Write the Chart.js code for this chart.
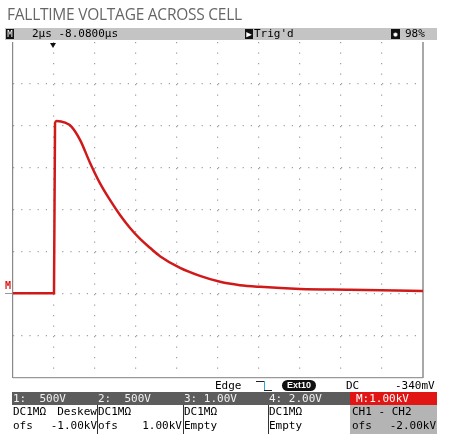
<!DOCTYPE html>
<html>
<head>
<meta charset="utf-8">
<script src="https://cdn.jsdelivr.net/npm/chart.js@4.4.0/dist/chart.umd.min.js"></script>
<style>
body { margin: 0; width: 450px; height: 446px; background: #fff; position: relative; overflow: hidden; font-family: "DejaVu Sans Mono", monospace; }
#grafico { position: absolute; left: 0; top: 0; }
.txt { position: absolute; white-space: pre; font-size: 11px; line-height: 12px; color: #000; }
#titulo { position: absolute; left: 7px; top: 3px; font-family: "Open Sans", sans-serif; font-size: 15.5px; color: #666; letter-spacing: -0.25px; white-space: pre; }
#barraTopo { position: absolute; left: 5px; top: 28px; width: 432px; height: 12px; background: #c4c4c4; }
.icone { position: absolute; background: #111; color: #fff; font-size: 9px; line-height: 10px; text-align: center; }
#barraEscura { position: absolute; left: 12px; top: 392px; width: 338px; height: 13px; background: #5c5c5c; }
#caixaMath { position: absolute; left: 350px; top: 392px; width: 87px; height: 13px; background: #e21515; }
#caixaCinza { position: absolute; left: 350px; top: 405px; width: 87px; height: 29px; background: #b4b4b4; }
.sep { position: absolute; top: 405px; width: 1px; height: 29px; background: #333; }
.col { position: absolute; width: 84px; display: flex; justify-content: space-between; white-space: pre; font-size: 11px; line-height: 12px; color: #000; }
.claro { color: #f2f2f2; }
#ext { position: absolute; left: 282px; top: 380px; width: 34px; height: 11px; background: #111; color: #fff; border-radius: 6px; font-family: "Liberation Sans", sans-serif; font-size: 9px; font-weight: bold; line-height: 11px; text-align: center; }
#gatilho { position: absolute; left: 50px; top: 43px; width: 0; height: 0; border-left: 3px solid transparent; border-right: 3px solid transparent; border-top: 5px solid #111; }
#marcaM { position: absolute; left: 5px; top: 281px; color: #d81818; font-size: 10px; font-weight: bold; line-height: 10px; }
#riscoM { position: absolute; left: 5px; top: 293px; width: 7px; height: 1px; background: #999; }
</style>
</head>
<body>
<canvas id="grafico" width="450" height="446"></canvas>

<div id="titulo">FALLTIME VOLTAGE ACROSS CELL</div>

<!-- barra de status de cima -->
<div id="barraTopo"></div>
<div class="icone" style="left:6px; top:29px; width:8px; height:10px;">M</div>
<div class="txt" style="left:32px; top:28px;">2µs -8.0800µs</div>
<div class="icone" style="left:245px; top:29px; width:8px; height:10px;">▶</div>
<div class="txt" style="left:254px; top:28px;">Trig'd</div>
<div class="icone" style="left:391px; top:29px; width:9px; height:10px;">✹</div>
<div class="txt" style="left:405px; top:28px;">98%</div>

<div id="gatilho"></div>
<div id="marcaM">M</div>
<div id="riscoM"></div>

<!-- linha do trigger -->
<div class="txt" style="left:215px; top:380px;">Edge</div>
<div style="position:absolute; left:256px; top:381px; width:8px; height:1px; background:#222;"></div>
<div style="position:absolute; left:264px; top:381px; width:1px; height:9px; background:#2aa8d8;"></div>
<div style="position:absolute; left:264px; top:390px; width:8px; height:1px; background:#222;"></div>
<div id="ext">Ext10</div>
<div class="txt" style="left:346px; top:380px;">DC</div>
<div class="txt" style="left:395px; top:380px;">-340mV</div>

<!-- canais -->
<div id="barraEscura"></div>
<div id="caixaMath"></div>
<div id="caixaCinza"></div>
<div class="sep" style="left:97px;"></div>
<div class="sep" style="left:183px;"></div>
<div class="sep" style="left:268px;"></div>

<div class="txt claro" style="left:13px; top:393px;">1:  500V</div>
<div class="txt claro" style="left:98px; top:393px;">2:  500V</div>
<div class="txt claro" style="left:184px; top:393px;">3: 1.00V</div>
<div class="txt claro" style="left:269px; top:393px;">4: 2.00V</div>
<div class="txt" style="left:356px; top:393px; color:#fff;">M:1.00kV</div>

<div class="col" style="left:13px; top:406px;"><span>DC1MΩ</span><span>Deskew</span></div>
<div class="col" style="left:98px; top:406px;"><span>DC1MΩ</span><span></span></div>
<div class="col" style="left:184px; top:406px;"><span>DC1MΩ</span><span></span></div>
<div class="col" style="left:269px; top:406px;"><span>DC1MΩ</span><span></span></div>
<div class="col" style="left:352px; top:406px;"><span>CH1 - CH2</span><span></span></div>

<div class="col" style="left:13px; top:420px;"><span>ofs</span><span>-1.00kV</span></div>
<div class="col" style="left:98px; top:420px;"><span>ofs</span><span>1.00kV</span></div>
<div class="col" style="left:184px; top:420px;"><span>Empty</span><span></span></div>
<div class="col" style="left:269px; top:420px;"><span>Empty</span><span></span></div>
<div class="col" style="left:352px; top:420px;"><span>ofs</span><span>-2.00kV</span></div>

<script>
const tempos = [-2, -0.05, 0.0, 0.05, 0.13, 0.54, 0.86, 1.27, 1.76, 2.24, 2.73, 3.22, 3.71, 4.20, 4.68, 5.17, 6.15, 7.12, 8.10, 9.07, 10.05, 12.0, 14.44, 18];
const tensoes = [0.02, 0.02, 0.02, 4.07, 4.12, 4.08, 3.98, 3.67, 3.12, 2.64, 2.24, 1.88, 1.57, 1.31, 1.10, 0.90, 0.62, 0.43, 0.29, 0.21, 0.17, 0.12, 0.10, 0.07];

// limites dos eixos: 2µs/div e 1kV/div
const tempoMin = -2, tempoMax = 18, tempoPasso = 2;
const tensaoMin = -2, tensaoMax = 6, tensaoPasso = 1;

const pontos = tempos.map((t, i) => ({ x: t, y: tensoes[i] }));

const ctx = document.getElementById('grafico');

const chart = new Chart(ctx, {
    type: 'line',
    data: {
        datasets: [{
            label: 'M',
            data: pontos,
            borderColor: '#d01a1a',
            borderWidth: 2.5,
            pointRadius: 0,
            cubicInterpolationMode: 'monotone',
            fill: false
        }]
    },
    options: {
        responsive: false,
        animation: false,
        devicePixelRatio: 1,
        layout: {
            padding: { left: 13, top: 42, right: 27, bottom: 68 }
        },
        scales: {
            x: {
                type: 'linear',
                min: tempoMin,
                max: tempoMax,
                ticks: { display: false, stepSize: tempoPasso },
                grid: {
                    drawTicks: false,
                    color: (c) => {
                        if (c.tick && c.tick.value == tempoMax) return '#a8a8a8';
                        if (c.tick && c.tick.value == tempoMin) return '#888888';
                        return '#a0a0a0';
                    },
                    lineWidth: (c) => (c.tick && c.tick.value == tempoMax) ? 2 : 1.2
                },
                border: {
                    display: false,
                    dash: (c) => (c.tick && (c.tick.value == tempoMin || c.tick.value == tempoMax)) ? [] : [1.2, 9.3]
                }
            },
            y: {
                type: 'linear',
                min: tensaoMin,
                max: tensaoMax,
                ticks: { display: false, stepSize: tensaoPasso },
                grid: {
                    drawTicks: false,
                    color: (c) => {
                        if (c.tick && c.tick.value == tensaoMax) return 'rgba(0,0,0,0)';
                        if (c.tick && c.tick.value == tensaoMin) return '#999999';
                        return '#a0a0a0';
                    },
                    lineWidth: 1.2
                },
                border: {
                    display: false,
                    dash: (c) => (c.tick && c.tick.value == tensaoMin) ? [] : [1.2, 7]
                }
            }
        },
        plugins: {
            legend: { display: false },
            tooltip: { enabled: false }
        }
    }
});
</script>
</body>
</html>
